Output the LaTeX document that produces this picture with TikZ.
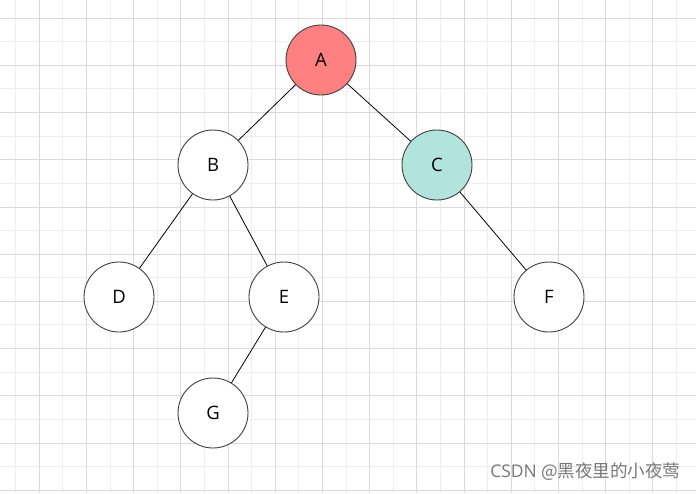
\documentclass[tikz,border=0pt]{standalone}
\usepackage{fontspec}
\setmainfont{Open Sans}
\newfontfamily\cjkfont{Noto Sans CJK SC}
\usepackage{tikz}
\usetikzlibrary{positioning}
\definecolor{GridDark}{RGB}{218,218,218}
\definecolor{GridLight}{RGB}{238,238,238}
\definecolor{RootRed}{RGB}{255,128,128}
\definecolor{RightTeal}{RGB}{177,228,220}
\definecolor{RingGray}{RGB}{64,64,64}
\definecolor{MarkGray}{RGB}{120,120,120}
\tikzset{
  treenode/.style={circle,draw=RingGray,fill=white,line width=0.9pt,minimum size=70pt,inner sep=0pt,font=\fontsize{18.5}{18.5}\selectfont},
  rootnode/.style={treenode,fill=RootRed},
  rightnode/.style={treenode,fill=RightTeal},
  treelink/.style={draw=black,line width=0.8pt},
  minorline/.style={draw=GridLight,line width=1pt},
  majorline/.style={draw=GridDark,line width=1pt}
}
\begin{document}
\begin{tikzpicture}[x=1pt,y=-1pt]
\fill[white] (0,0) rectangle (696,493);
\useasboundingbox (0,0) rectangle (696,493);
% grid
\foreach \k in {0,...,14} {\draw[minorline] ({15.7+47.2*\k},0) -- ++(0,493);}
\foreach \k in {0,...,9} {\draw[minorline] (0,{41.7+47.2*\k}) -- ++(696,0);}
\foreach \k in {0,...,13} {\draw[majorline] ({39.3+47.2*\k},0) -- ++(0,493);}
\foreach \k in {0,...,10} {\draw[majorline] (0,{18.3+47.2*\k}) -- ++(696,0);}
% tree
\node[rootnode] (a) at (321,60) {A};
\node[treenode] (b) at (213,165) {B};
\node[rightnode] (c) at (437,165) {C};
\node[treenode] (d) at (119,297) {D};
\node[treenode] (e) at (284,297) {E};
\node[treenode] (f) at (549,297) {F};
\node[treenode] (g) at (213,413) {G};
\draw[treelink] (a) -- (b);
\draw[treelink] (a) -- (c);
\draw[treelink] (b) -- (d);
\draw[treelink] (b) -- (e);
\draw[treelink] (c) -- (f);
\draw[treelink] (e) -- (g);
\node[anchor=east,text=MarkGray,font=\fontsize{17.5}{17.5}\selectfont] (mark) at (684,472) {CSDN {\cjkfont @黑夜里的小夜莺}};
\end{tikzpicture}
\end{document}
